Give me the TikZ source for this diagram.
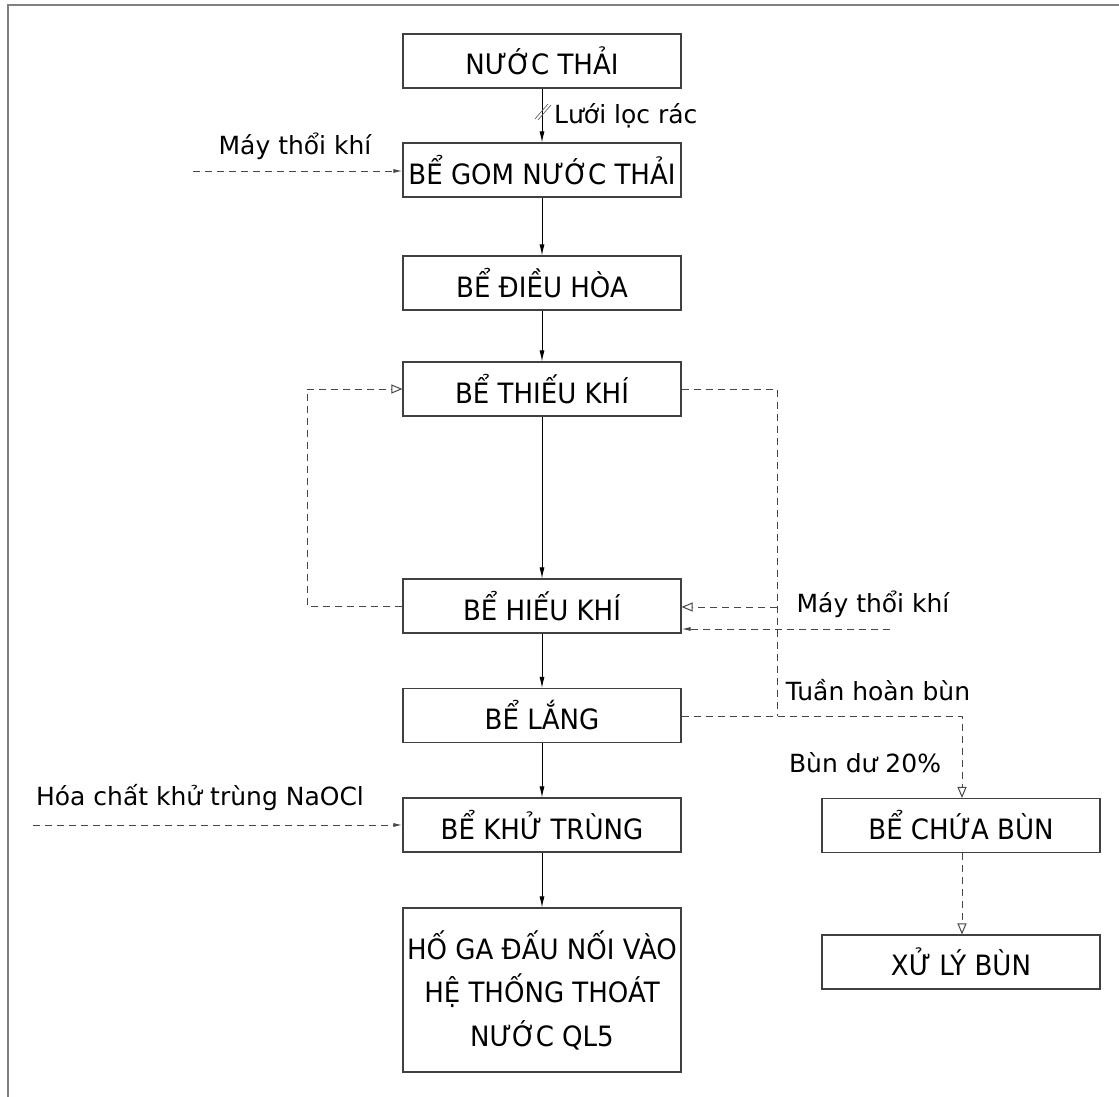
\documentclass[tikz,border=0pt]{standalone}
\usepackage{fontspec}
\setmainfont{DejaVu Sans}
\newfontfamily\boxfont[FakeStretch=0.93]{DejaVu Sans}
\usetikzlibrary{arrows.meta}
\tikzset{
  box/.style={draw=black!75, line width=1.1pt, minimum width=278pt, minimum height=54pt,
    inner sep=0pt, align=center, font=\boxfont\fontsize{28}{43.5}\selectfont},
  lbl/.style={inner sep=0pt, font=\fontsize{25}{30}\selectfont},
  flow/.style={draw=black, line width=0.9pt, -{Latex[length=11pt,width=5pt]}},
  dline/.style={draw=black!72, line width=1pt, dash pattern=on 7pt off 5pt},
  openarr/.style={-{Triangle[open,length=11pt,width=9pt]}},
  smallarr/.style={-{Latex[length=9pt,width=4pt]}}
}
\begin{document}
\begin{tikzpicture}[x=1pt,y=-1pt]
\useasboundingbox (0,0) rectangle (1119,1097);
\draw[black!50, line width=2pt] (8,1097) -- (8,5) -- (1119,5);

\node[box] (n1) at (542,61) {NƯỚC THẢI};
\node[box] (n2) at (542,170) {BỂ GOM NƯỚC THẢI};
\node[box] (n3) at (542,283) {BỂ ĐIỀU HÒA};
\node[box] (n4) at (542,389) {BỂ THIẾU KHÍ};
\node[box] (n5) at (542,606) {BỂ HIẾU KHÍ};
\node[box] (n6) at (542,715.5) {BỂ LẮNG};
\node[box] (n7) at (542,825) {BỂ KHỬ TRÙNG};
\node[box, minimum height=164pt] (n8) at (542,990) {HỐ GA ĐẤU NỐI VÀO\\HỆ THỐNG THOÁT\\NƯỚC QL5};
\node[box] (b1) at (961,825.5) {BỂ CHỨA BÙN};
\node[box] (b2) at (961,962) {XỬ LÝ BÙN};

% main flow
\draw[flow] (n1) -- (n2);
\draw[flow] (n2) -- (n3);
\draw[flow] (n3) -- (n4);
\draw[flow] (n4) -- (n5);
\draw[flow] (n5) -- (n6);
\draw[flow] (n6) -- (n7);
\draw[flow] (n7) -- (n8);

% screen mark
\draw[black!60, line width=0.7pt] (535,119) -- (548,104);
\draw[black!60, line width=0.7pt] (538,120) -- (551,105);
\node[lbl, anchor=west] (lscreen) at (554,116) {Lưới lọc rác};

% blower left
\coordinate (bl) at (193,171);
\draw[dline, smallarr] (bl) -- (n2.west |- bl);
\node[lbl] (lbl1) at (295,146) {Máy thổi khí};

% chemical
\coordinate (ch) at (33,825);
\draw[dline, smallarr] (ch) -- (n7.west);
\node[lbl] (lch) at (200,798) {Hóa chất khử trùng NaOCl};

% internal recirculation left
\coordinate (l1) at (307,606);
\coordinate (l2) at (307,389);
\draw[dline, openarr] (n5.west) -- (l1) -- (l2) -- (n4.west);

% right side recirculation
\coordinate (r1) at (777,389);
\coordinate (r2) at (777,716);
\coordinate (r3) at (777,607);
\draw[dline] (n4.east) -- (r1) -- (r2);
\draw[dline, openarr] (r3) -- (n5.east |- r3);

% blower right
\coordinate (br) at (890,629);
\draw[dline, smallarr] (br) -- (n5.east |- br);
\node[lbl] (lbl2) at (873,604) {Máy thổi khí};

% sludge
\coordinate (s1) at (962,716);
\draw[dline, openarr] (n6.east |- s1) -- (s1) -- (b1.north -| s1);
\node[lbl] (ltuan) at (878,690) {Tuần hoàn bùn};
\node[lbl] (ldu) at (865,763) {Bùn dư 20\%};
\draw[dline, openarr] (b1.south -| s1) -- (b2.north -| s1);
\end{tikzpicture}
\end{document}
